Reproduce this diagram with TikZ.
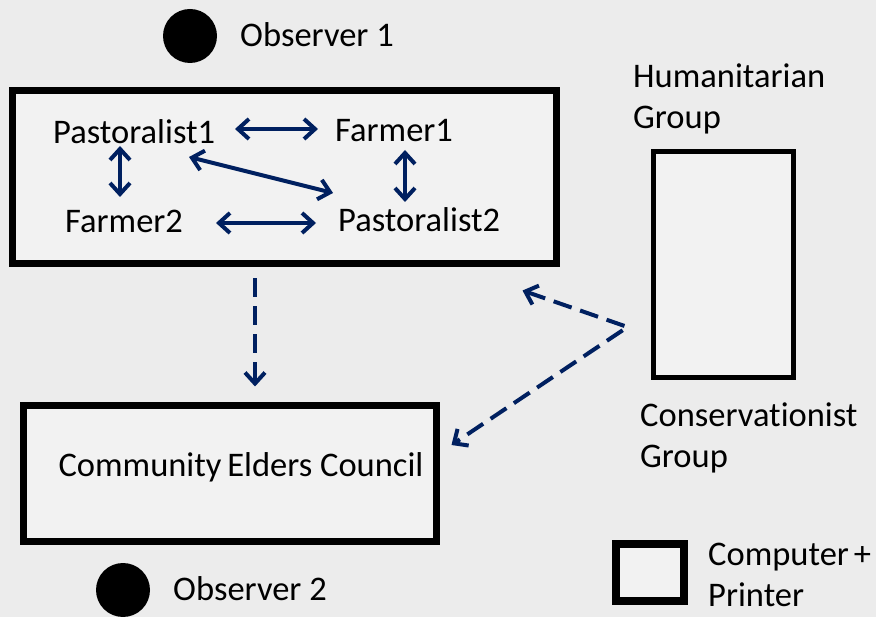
\documentclass[tikz,border=0pt]{standalone}
\usepackage{fontspec}
\setmainfont{Carlito}[RawFeature={-liga;-clig;-calt;-dlig}]
\usetikzlibrary{arrows.meta}
\definecolor{navy}{RGB}{0,32,96}
\definecolor{paper}{RGB}{236,236,236}
\definecolor{boxfill}{RGB}{242,242,242}
\begin{document}
\begin{tikzpicture}[x=1pt,y=-1pt,
  every node/.style={font=\fontsize{34.5}{41}\selectfont},
  txt/.style={inner sep=0pt, anchor=base west, text height=22pt, text depth=0pt},
  ltxt/.style={inner sep=0pt, anchor=base west, align=left},
  frame/.style={draw=black, fill=boxfill, inner sep=0pt},
  dot/.style={circle, fill=black, inner sep=0pt, minimum size=54pt},
  link/.style={draw=navy, line width=4pt, {Straight Barb[length=11pt,width=20pt]}-{Straight Barb[length=11pt,width=20pt]}},
  flow/.style={draw=navy, line width=4pt, dash pattern=on 19pt off 9pt, line join=miter, -{Straight Barb[length=11pt,width=20pt]}}
]
\useasboundingbox[fill=paper] (0,0) rectangle (876,617);

% observers
\node[dot] (obs1) at (190,36) {};
\node[ltxt] (obs1lbl) at (240,47) {Observer 1};
\node[dot] (obs2) at (123,590) {};
\node[ltxt] (obs2lbl) at (173,600) {Observer 2};

% main interaction box
\node[frame, line width=7pt, minimum width=544pt, minimum height=173pt] (main) at (284.5,177) {};
\node[txt] (p1) at (53,144) {Pastoralist1};
\node[txt] (f1) at (335,142) {Farmer1};
\node[txt] (f2) at (65,233) {Farmer2};
\node[txt] (p2) at (338,232) {Pastoralist2};

\draw[link] ([xshift=182pt,yshift=15pt]p1.base west) -- ([xshift=-17pt,yshift=13pt]f1.base west);
\draw[link] ([xshift=67pt,yshift=-2pt]p1.base west) -- ([xshift=55pt,yshift=36pt]f2.base west);
\draw[link] ([xshift=70pt,yshift=-8pt]f1.base west) -- ([xshift=67pt,yshift=30pt]p2.base west);
\draw[link] ([xshift=151pt,yshift=10pt]f2.base west) -- ([xshift=-22pt,yshift=9pt]p2.base west);
\draw[link] ([xshift=136pt,yshift=-13pt]p1.base west) -- ([xshift=-5pt,yshift=39pt]p2.base west);

% elders council
\node[frame, line width=7pt, minimum width=413pt, minimum height=136pt] (elders) at (230,473.5) {};
\node[inner sep=0pt] (elderslbl) at (241,467) {Community\kern-2pt\ Elders Council};

% humanitarian / conservationist group
\node[ltxt] (hum) at (633,129) {Humanitarian\\Group};
\node[frame, line width=5pt, minimum width=140pt, minimum height=226pt] (comp) at (723,265) {};
\node[ltxt] (cons) at (640,468) {Conservat\kern0pt ionist\\Group};

% legend
\node[frame, line width=8pt, minimum width=68pt, minimum height=57pt] (legend) at (650,572.5) {};
\node[ltxt] (legendlbl) at (708,606) {Computer\kern-3pt\ +\\Printer};

% dashed flows
\draw[flow] ([xshift=-29.5pt,yshift=-11.5pt]main.south) -- ([xshift=25pt,yshift=15.5pt]elders.north);
\draw[flow, {Straight Barb[length=11pt,width=20pt]}-{Straight Barb[length=11pt,width=20pt]}]
  ([xshift=-37.5pt,yshift=-23.5pt]main.south east) -- ([xshift=-23pt,yshift=-62pt]comp.west)
  -- ([xshift=11.5pt,yshift=28.5pt]elders.east);
\end{tikzpicture}
\end{document}
